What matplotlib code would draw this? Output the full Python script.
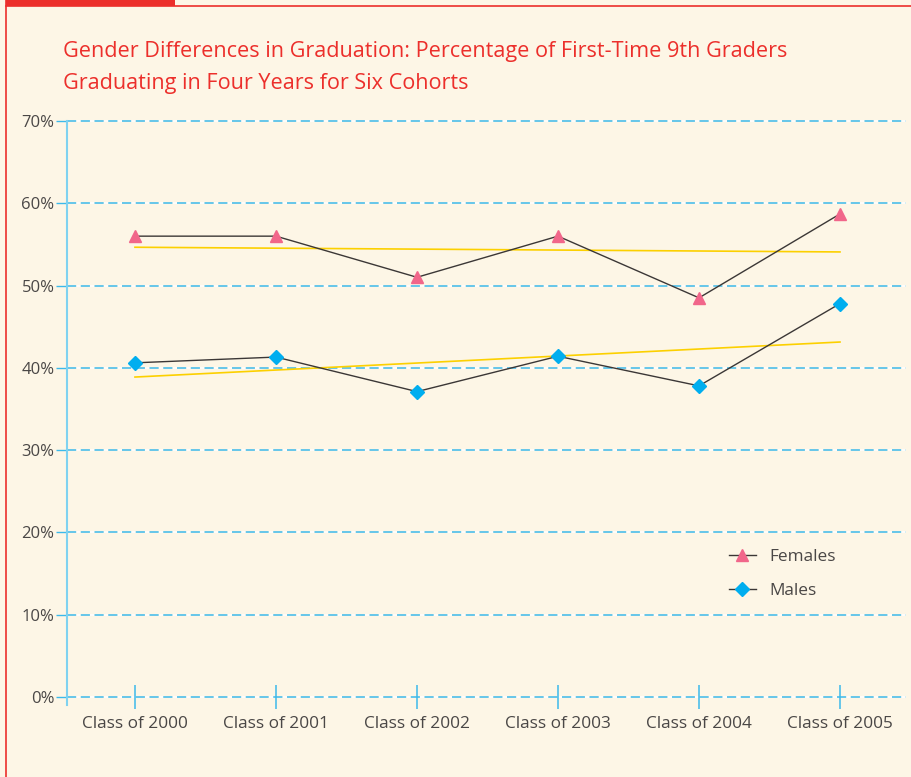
import numpy as np
import matplotlib.pyplot as plt
from matplotlib.lines import Line2D

# data
classes = ['Class of 2000', 'Class of 2001', 'Class of 2002',
           'Class of 2003', 'Class of 2004', 'Class of 2005']
females = [56.0, 56.0, 51.0, 56.0, 48.5, 58.7]
males = [40.6, 41.3, 37.1, 41.4, 37.8, 47.8]
yticks = [0, 10, 20, 30, 40, 50, 60, 70]

bg = '#fdf6e6'
red = '#ec2f2b'
blue = '#3cb9ea'
axis_blue = '#7fd2f0'
txt = '#4a4746'

plt.rcParams['font.family'] = ['Open Sans', 'DejaVu Sans']

fig = plt.figure(figsize=(9.12, 7.77), dpi=100, facecolor=bg)

# frame: thick red tab top-left, thin red lines along top and left
fig.add_artist(Line2D([6.5/912, 6.5/912], [0, 1], color=red, lw=1.2))
fig.add_artist(Line2D([6/912, 1], [1 - 5.5/777, 1 - 5.5/777], color=red, lw=1.2))
fig.add_artist(plt.Rectangle((6/912, 1 - 6/777), 169/912, 6/777, color=red, lw=0))

fig.text(63/912, 1 - 51/777, 'Gender Differences in Graduation: Percentage of First-Time 9th Graders',
         color=red, fontsize=15.6, va='center', ha='left')
fig.text(63/912, 1 - 83/777, 'Graduating in Four Years for Six Cohorts',
         color=red, fontsize=15.6, va='center', ha='left')

ax = fig.add_axes([67/912, 80/777 - 8/777, (906 - 67)/912, (697 - 121 + 8)/777])
ax.set_facecolor(bg)

x = np.arange(len(classes))

# gridlines
for v in yticks:
    ax.axhline(v, color=blue, lw=1.1, linestyle=(0, (6, 3)), gapcolor='white',
               zorder=1, clip_on=False)

# linear trend lines
for vals in (females, males):
    k, b = np.polyfit(x, vals, 1)
    ax.plot(x, k * x + b, color='#fcd000', lw=1.2, zorder=2)

ax.plot(x, females, color='#3b3736', lw=1.0, marker='^', markersize=8,
        markerfacecolor='#f1668a', markeredgecolor='#f1668a', zorder=3, label='Females')
ax.plot(x, males, color='#3b3736', lw=1.0, marker='D', markersize=7,
        markerfacecolor='#00aeef', markeredgecolor='#00aeef', zorder=3, label='Males')

ax.set_xlim(-0.482, 5.468)
ax.set_ylim(-1.0, 70)

for s in ['top', 'right']:
    ax.spines[s].set_visible(False)
ax.spines['bottom'].set_position(('data', 0))
ax.spines['bottom'].set_visible(False)
ax.spines['left'].set_color(axis_blue)
ax.spines['left'].set_linewidth(1.5)

ax.set_xticks(x)
ax.set_xticklabels(classes)
ax.set_yticks(yticks)
ax.set_yticklabels([f'{v}%' for v in yticks])
ax.tick_params(axis='x', direction='inout', length=17, width=1.1, color=blue,
               labelcolor=txt, labelsize=12.4, pad=5)
ax.tick_params(axis='y', direction='out', length=8, width=1.0, color=blue,
               labelcolor=txt, labelsize=12, pad=1)

leg = ax.legend(loc='lower left', bbox_to_anchor=(0.77, 0.155), frameon=False,
                fontsize=12.4, labelcolor=txt, handlelength=1.6, labelspacing=1.05,
                handletextpad=0.8)

fig.savefig('out.png', dpi=100, facecolor=bg)
